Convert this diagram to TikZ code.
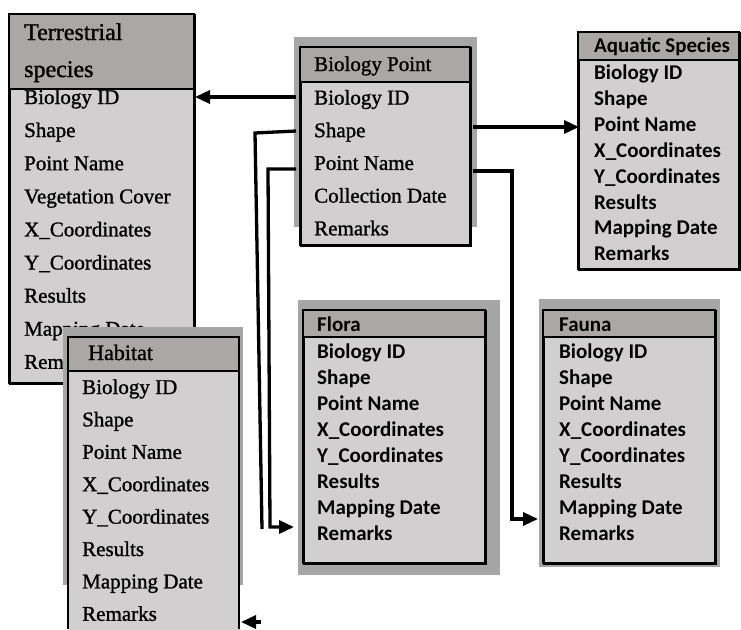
\documentclass[tikz,border=0pt]{standalone}
\usepackage{fontspec}
\setmainfont{Liberation Serif}
\newfontfamily\serifheavy{Liberation Serif}[FakeBold=1.2]
\newfontfamily\calibri{Carlito}
\usetikzlibrary{arrows.meta}
\definecolor{hdrgray}{RGB}{171,167,166}
\definecolor{bodygray}{RGB}{209,207,208}
\definecolor{shadowgray}{RGB}{166,166,166}
\tikzset{
  tablebox/.style={fill=bodygray, draw=black, line width=2pt, inner sep=0pt, anchor=north west},
  shadowrect/.style={fill=shadowgray},
  hdrrect/.style={fill=hdrgray},
  sepline/.style={draw=black, line width=2pt},
  serifrow/.style={anchor=base west, inner sep=0pt, font=\serifheavy\fontsize{21}{24}\selectfont},
  serifbig/.style={anchor=base west, inner sep=0pt, font=\serifheavy\fontsize{24}{28}\selectfont},
  sansrow/.style={anchor=base west, inner sep=0pt, font=\calibri\bfseries\fontsize{21}{24}\selectfont},
  conn/.style={draw=black, line width=3.3pt},
  arr/.style={-{Triangle[length=15pt,width=13pt]}}
}
\begin{document}
\begin{tikzpicture}[x=1pt,y=-1pt]
\useasboundingbox (0,0) rectangle (741,629);

% ---------------- Terrestrial species
\node[tablebox, minimum width=185pt, minimum height=369pt] (terr) at (9,14) {};
\fill[hdrrect] (9,14) rectangle (194,89);
\draw[line width=2pt] (9,14) rectangle (194,383);
\draw[sepline] (9,89) -- (194,89);
\node[serifbig] (terr-h1) at (24,40) {Terrestrial};
\node[serifbig] (terr-h2) at (24,77) {species};
\foreach \t [count=\i from 0] in {Biology ID,Shape,Point Name,Vegetation Cover,X\_Coordinates,Y\_Coordinates,Results,Mapping Date,Remarks}
  \node[serifrow] (terr-\i) at (24,104+33.1*\i) {\t};

% ---------------- Habitat
\fill[shadowrect] (63,327) rectangle (243,585);
\node[tablebox, draw=none, minimum width=171pt, minimum height=292pt] (hab) at (68,337) {};
\fill[hdrrect] (68,337) rectangle (239,371);
\draw[line width=2pt] (68,629) -- (68,337) -- (239,337) -- (239,629);
\draw[sepline] (68,371) -- (239,371);
\node[serifrow, font=\serifheavy\fontsize{22}{26}\selectfont] (hab-h) at (88,360) {Habitat};
\foreach \t [count=\i from 0] in {Biology ID,Shape,Point Name,X\_Coordinates,Y\_Coordinates,Results,Mapping Date,Remarks}
  \node[serifrow] (hab-\i) at (82,394+32.4*\i) {\t};

% ---------------- Biology Point
\fill[shadowrect] (294,37) rectangle (477,227);
\node[tablebox, minimum width=170pt, minimum height=198pt] (bp) at (300,47) {};
\fill[hdrrect] (300,47) rectangle (470,82);
\draw[line width=2pt] (300,47) rectangle (470,245);
\draw[sepline] (300,82) -- (470,82);
\node[serifrow] (bp-h) at (314,71) {Biology Point};
\foreach \t [count=\i from 0] in {Biology ID,Shape,Point Name,Collection Date,Remarks}
  \node[serifrow] (bp-\i) at (314,104.5+32.7*\i) {\t};

% ---------------- Aquatic Species
\node[tablebox, minimum width=161pt, minimum height=237pt] (aq) at (578,32) {};
\fill[hdrrect] (578,32) rectangle (739,60);
\draw[line width=2pt] (578,32) rectangle (739,269);
\draw[sepline] (578,60) -- (739,60);
\node[sansrow] (aq-h) at (594,52) {Aquatic Species};
\foreach \t [count=\i from 0] in {Biology ID,Shape,Point Name,X\_Coordinates,Y\_Coordinates,Results,Mapping Date,Remarks}
  \node[sansrow] (aq-\i) at (594,79.5+25.9*\i) {\t};

% ---------------- Flora
\fill[shadowrect] (298,300) rectangle (500,575);
\node[tablebox, minimum width=182pt, minimum height=253pt] (flora) at (303,310) {};
\fill[hdrrect] (303,310) rectangle (485,337);
\draw[line width=2pt] (303,310) rectangle (485,563);
\draw[sepline] (303,337) -- (485,337);
\node[sansrow] (flora-h) at (317,331.5) {Flora};
\foreach \t [count=\i from 0] in {Biology ID,Shape,Point Name,X\_Coordinates,Y\_Coordinates,Results,Mapping Date,Remarks}
  \node[sansrow] (flora-\i) at (317,358.5+26*\i) {\t};

% ---------------- Fauna
\fill[shadowrect] (539,299) rectangle (720,567);
\node[tablebox, minimum width=172pt, minimum height=253pt] (fauna) at (543,310) {};
\fill[hdrrect] (543,310) rectangle (715,337);
\draw[line width=2pt] (543,310) rectangle (715,563);
\draw[sepline] (543,337) -- (715,337);
\node[sansrow] (fauna-h) at (559,331.5) {Fauna};
\foreach \t [count=\i from 0] in {Biology ID,Shape,Point Name,X\_Coordinates,Y\_Coordinates,Results,Mapping Date,Remarks}
  \node[sansrow] (fauna-\i) at (559,358.5+26*\i) {\t};

% ---------------- connector points
\coordinate (c1s) at (296,97);
\coordinate (c1e) at (195,97);
\coordinate (c2s) at (296,131);
\coordinate (c2a) at (255,133);
\coordinate (c2b) at (262,529);
\coordinate (c3s) at (296,169);
\coordinate (c3a) at (268,169);
\coordinate (c3b) at (270,527);
\coordinate (flw) at (294,527);
\coordinate (c4s) at (473,127);
\coordinate (aqw) at (579,127);
\coordinate (c5s) at (473,171);
\coordinate (c5a) at (512,171);
\coordinate (c5b) at (512,519);
\coordinate (faw) at (538,519);
\coordinate (c6s) at (261,622);
\coordinate (habe) at (241,622);

% ---------------- connectors
\draw[conn, arr] (c1s) -- (c1e);
\draw[conn] (c2s) -- (c2a) -- (c2b);
\draw[conn, arr] (c3s) -- (c3a) -- (c3b) -- (flw);
\draw[conn, arr] (c4s) -- (aqw);
\draw[conn, arr] (c5s) -- (c5a) -- (c5b) -- (faw);
\draw[conn, arr] (c6s) -- (habe);
\end{tikzpicture}
\end{document}
